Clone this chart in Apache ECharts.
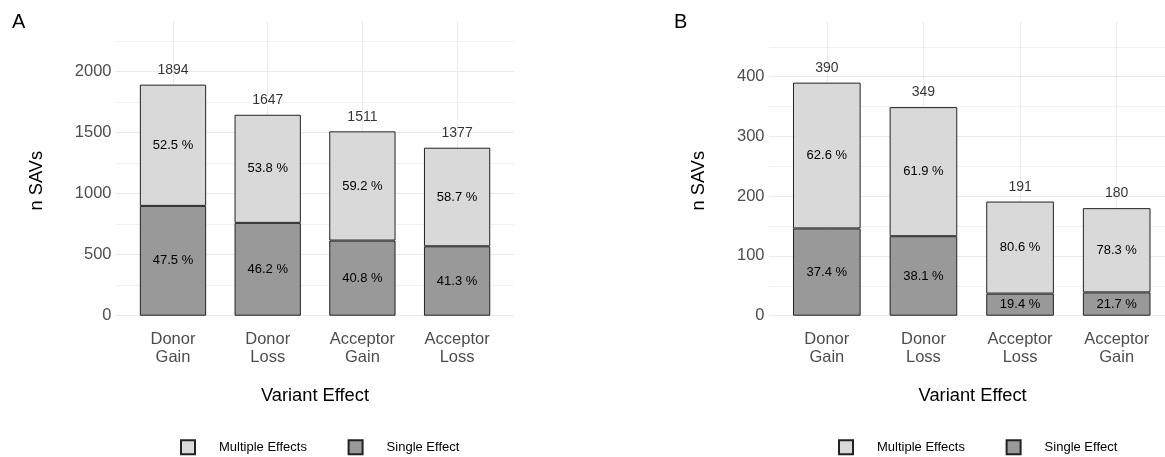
<!DOCTYPE html>
<html>
<head>
<meta charset="utf-8">
<script src="https://cdn.jsdelivr.net/npm/echarts@6/dist/echarts.min.js"></script>
<style>
  html, body { margin: 0; padding: 0; background: #ffffff; }
  #chart { width: 1165px; height: 457px; }
</style>
</head>
<body>
<div id="chart"></div>
<script>
// ---- data: splice-altering variants (SAVs) per variant effect ----
const categoriesA = ['Donor\nGain', 'Donor\nLoss', 'Acceptor\nGain', 'Acceptor\nLoss'];
const singleA     = [900, 761, 616, 569];
const multipleA   = [994, 886, 895, 808];
const yTickLabelsA = [0, 500, 1000, 1500, 2000];

const categoriesB = ['Donor\nGain', 'Donor\nLoss', 'Acceptor\nLoss', 'Acceptor\nGain'];
const singleB     = [146, 133, 37, 39];
const multipleB   = [244, 216, 154, 141];
const yTickLabelsB = [0, 100, 200, 300, 400];

const seriesNames = ['Multiple Effects', 'Single Effect'];

// ---- layout (pixels) ----
const FONT = '"Liberation Sans", Arial, Helvetica, sans-serif';
const ZERO_Y = 315.7;          // y of the zero line
const PANEL_TOP = 33.5;        // top of panel area
const TICK_EXT = 12.3;         // panel extends below zero
const H = 457;

const panels = [
  { label: 'A', cats: categoriesA, single: singleA, multiple: multipleA, yLabels: yTickLabelsA,
    yMax: 2250, yStep: 250, pxPerUnit: 0.12200,
    panelLeft: 116, firstCenter: 173, band: 94.7,
    labelX: 12, titleYx: 37, legendLeft: 180 },
  { label: 'B', cats: categoriesB, single: singleB, multiple: multipleB, yLabels: yTickLabelsB,
    yMax: 450, yStep: 50, pxPerUnit: 0.5976,
    panelLeft: 769, firstCenter: 827, band: 97,
    labelX: 674, titleYx: 699, legendLeft: 838 }
];

const grids = [], xAxes = [], yAxes = [], series = [], legends = [], graphics = [];

panels.forEach((p, i) => {
  const totals = p.single.map((v, k) => v + p.multiple[k]);
  const gTop = ZERO_Y - p.yMax * p.pxPerUnit;
  const gBottom = H - ZERO_Y;
  const panelRight = p.firstCenter + (p.cats.length - 0.4) * p.band;
  const panelWidth = panelRight - p.panelLeft;
  const barLeft = p.firstCenter - p.band / 2;
  const barWidth = p.band * p.cats.length;

  // background grid: horizontal gridlines and y tick labels
  grids.push({ left: p.panelLeft, width: panelWidth, top: gTop, bottom: gBottom, containLabel: false });
  xAxes.push({ gridIndex: 2 * i, type: 'value', show: false, min: 0, max: 1 });
  yAxes.push({
    gridIndex: 2 * i, type: 'value', min: 0, max: p.yMax, interval: p.yStep,
    axisLine: { show: false }, axisTick: { show: false },
    axisLabel: {
      margin: 4.5, color: '#4d4d4d', fontSize: 16.5, fontFamily: FONT,
      formatter: v => (p.yLabels.indexOf(v) >= 0 ? String(v) : '')
    },
    splitLine: { show: true, lineStyle: { color: ['#ebebeb', '#f2f2f2'], width: 1 } }
  });

  // bar grid: one band per category
  grids.push({ left: barLeft, width: barWidth, top: gTop, bottom: gBottom, containLabel: false });
  xAxes.push({
    gridIndex: 2 * i + 1, type: 'category', data: p.cats, offset: TICK_EXT,
    axisLine: { show: false },
    axisTick: {
      show: true, inside: true, alignWithLabel: true, interval: 0,
      length: ZERO_Y + TICK_EXT - PANEL_TOP,
      lineStyle: { color: '#ebebeb', width: 1 }
    },
    axisLabel: {
      interval: 0, margin: 3, color: '#4d4d4d', fontSize: 16.5, lineHeight: 17.5,
      fontFamily: FONT
    },
    splitLine: { show: false }
  });
  yAxes.push({ gridIndex: 2 * i + 1, type: 'value', min: 0, max: p.yMax, show: false });

  const pct = (arr) => (params) => (100 * arr[params.dataIndex] / totals[params.dataIndex]).toFixed(1) + ' %';
  const stackId = 'stack' + p.label;

  series.push({
    type: 'bar', name: 'Single Effect', xAxisIndex: 2 * i + 1, yAxisIndex: 2 * i + 1,
    stack: stackId, barWidth: '70%', data: p.single,
    itemStyle: { color: '#999999', borderColor: '#222222', borderWidth: 1 },
    label: { show: true, position: 'inside', formatter: pct(p.single), color: '#000', fontSize: 13, fontFamily: FONT },
    emphasis: { disabled: true }
  });
  series.push({
    type: 'bar', name: 'Multiple Effects', xAxisIndex: 2 * i + 1, yAxisIndex: 2 * i + 1,
    stack: stackId, barWidth: '70%', data: p.multiple,
    itemStyle: { color: '#d9d9d9', borderColor: '#222222', borderWidth: 1 },
    label: { show: true, position: 'inside', formatter: pct(p.multiple), color: '#000', fontSize: 13, fontFamily: FONT },
    emphasis: { disabled: true }
  });
  // totals written above each stack
  series.push({
    type: 'scatter', name: 'total' + p.label, xAxisIndex: 2 * i + 1, yAxisIndex: 2 * i + 1,
    data: totals, symbol: 'circle', symbolSize: 1, silent: true,
    itemStyle: { color: 'rgba(0,0,0,0)' },
    label: { show: true, position: 'top', distance: 7, formatter: '{c}', color: '#000', fontSize: 14, fontFamily: FONT },
    emphasis: { disabled: true }
  });

  legends.push({
    data: seriesNames, left: p.legendLeft, top: 439.3, padding: 0,
    orient: 'horizontal', itemWidth: 14, itemHeight: 14, itemGap: 40.7, icon: 'rect',
    selectedMode: false,
    textStyle: { fontSize: 13, color: '#000', fontFamily: FONT, padding: [0, 0, 0, 19] }
  });

  // panel tag, axis titles
  graphics.push({
    type: 'text', x: p.labelX, y: 22,
    style: { text: p.label, fontSize: 20, fontFamily: FONT, fill: '#000', textAlign: 'left', textVerticalAlign: 'middle' }
  });
  graphics.push({
    type: 'text', x: p.titleYx, y: (PANEL_TOP + ZERO_Y + TICK_EXT) / 2, rotation: Math.PI / 2,
    style: { text: 'n SAVs', fontSize: 18.3, fontFamily: FONT, fill: '#000', textAlign: 'center', textVerticalAlign: 'middle' }
  });
  graphics.push({
    type: 'text', x: p.panelLeft + panelWidth / 2, y: 395.7,
    style: { text: 'Variant Effect', fontSize: 18.3, fontFamily: FONT, fill: '#000', textAlign: 'center', textVerticalAlign: 'middle' }
  });
});

const chart = echarts.init(document.getElementById('chart'), null, { renderer: 'canvas' });
chart.setOption({
  animation: false,
  backgroundColor: '#ffffff',
  textStyle: { fontFamily: FONT },
  grid: grids,
  xAxis: xAxes,
  yAxis: yAxes,
  legend: legends,
  series: series,
  graphic: graphics
});
</script>
</body>
</html>
